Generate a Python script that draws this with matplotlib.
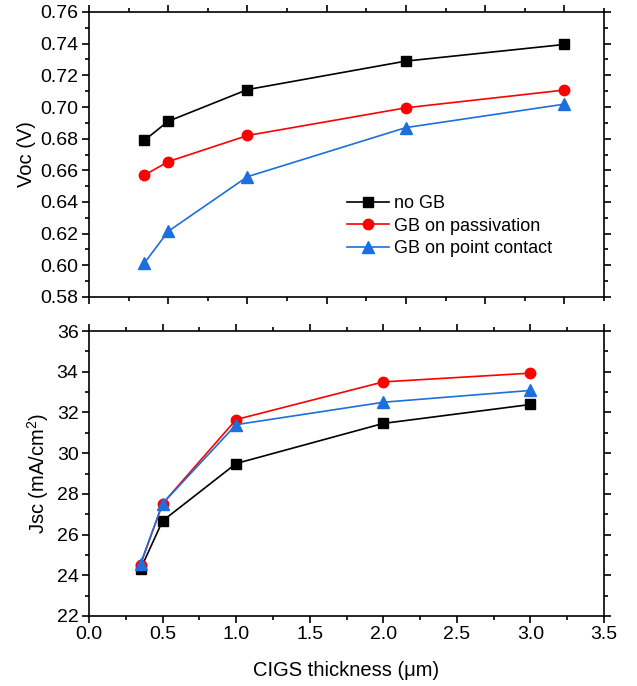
import matplotlib
matplotlib.use("Agg")
import matplotlib.pyplot as plt
from matplotlib.ticker import MultipleLocator

plt.rcParams['font.family'] = ['Liberation Sans', 'DejaVu Sans']
plt.rcParams['mathtext.fontset'] = 'custom'
plt.rcParams['mathtext.rm'] = 'Liberation Sans'

thickness = [0.35, 0.5, 1.0, 2.0, 3.0]
labels = ["no GB", "GB on passivation", "GB on point contact"]
voc_nogb = [0.679, 0.691, 0.711, 0.729, 0.7395]
voc_pass = [0.657, 0.6655, 0.682, 0.6995, 0.7107]
voc_point = [0.6015, 0.6215, 0.656, 0.687, 0.7018]
jsc_nogb = [24.3, 26.67, 29.49, 31.46, 32.39]
jsc_pass = [24.52, 27.52, 31.65, 33.5, 33.93]
jsc_point = [24.57, 27.52, 31.4, 32.5, 33.08]

colors = ['black', '#ff0000', '#1c6fdd']
markers = ['s', 'o', '^']
msizes = [6.5, 7.5, 8]

fig = plt.figure(figsize=(6.37, 6.86), dpi=100)
ax1 = fig.add_axes([89/637, 1-297/686, 515/637, 285/686])
ax2 = fig.add_axes([89/637, 1-616/686, 515/637, 285/686])

for ys, c, m, ms, lab in zip([voc_nogb, voc_pass, voc_point], colors, markers, msizes, labels):
    ax1.plot(thickness, ys, color=c, marker=m, markersize=ms, lw=1.2, label=lab)
for ys, c, m, ms, lab in zip([jsc_nogb, jsc_pass, jsc_point], colors, markers, msizes, labels):
    ax2.plot(thickness, ys, color=c, marker=m, markersize=ms, lw=1.2, label=lab)

ax1.set_xlim(0, 3.25)
ax1.set_ylim(0.58, 0.76)
ax1.xaxis.set_major_locator(MultipleLocator(0.5))
ax1.xaxis.set_minor_locator(MultipleLocator(0.25))
ax1.yaxis.set_major_locator(MultipleLocator(0.02))
ax1.yaxis.set_minor_locator(MultipleLocator(0.01))
ax1.yaxis.set_major_formatter(matplotlib.ticker.FormatStrFormatter('%.2f'))
ax1.tick_params(axis='x', labelbottom=False)

ax2.set_xlim(0, 3.5)
ax2.set_ylim(22, 36)
ax2.xaxis.set_major_locator(MultipleLocator(0.5))
ax2.xaxis.set_minor_locator(MultipleLocator(0.25))
ax2.yaxis.set_major_locator(MultipleLocator(2))
ax2.yaxis.set_minor_locator(MultipleLocator(1))
ax2.xaxis.set_major_formatter(matplotlib.ticker.FormatStrFormatter('%.1f'))

for ax in (ax1, ax2):
    for s in ax.spines.values():
        s.set_linewidth(1.2)
    ax.tick_params(which='both', direction='out', top=True, right=True, width=1.2)
    ax.tick_params(which='major', length=5, labelsize=14, pad=2.5)
    ax.tick_params(which='minor', length=3)

ax1.set_ylabel("Voc (V)", fontsize=14.5, labelpad=3)
ax2.set_ylabel("Jsc (mA/cm$^2$)", fontsize=14.5, labelpad=4)
ax2.set_xlabel("CIGS thickness (\u03bcm)", fontsize=14.5, labelpad=13)

ax1.legend(loc='upper left', bbox_to_anchor=(0.487, 0.382), frameon=False, fontsize=13,
           handlelength=2.3, handletextpad=0.3, labelspacing=0.3, borderaxespad=0)

fig.savefig("out.png", dpi=100)
